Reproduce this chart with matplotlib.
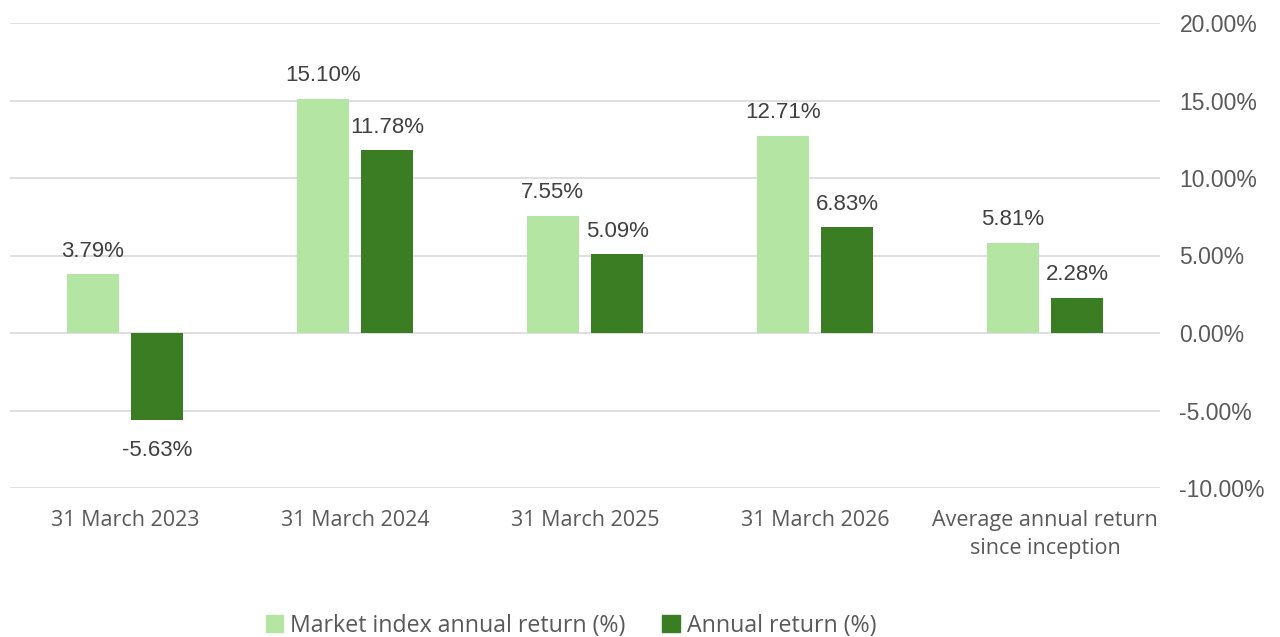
import numpy as np
import matplotlib.pyplot as plt
from matplotlib.patches import Patch
from matplotlib.ticker import FuncFormatter

# ==============================
# DATA
# ==============================

categories = ["31 March 2023", "31 March 2024", "31 March 2025", "31 March 2026",
              "Average annual return\nsince inception"]
market_index = [3.79, 15.10, 7.55, 12.71, 5.81]
annual_return = [-5.63, 11.78, 5.09, 6.83, 2.28]

LIGHT = "#B4E5A2"
DARK = "#3B7D23"
LABEL_FONT = "Liberation Sans"
CAT_FONT = "Open Sans"

# ==============================
# PLOT
# ==============================

fig = plt.figure(figsize=(12.8, 6.37), dpi=100)
ax = fig.add_axes([10 / 1280, 1 - 488 / 637, 1150 / 1280, 465 / 637])

x = np.arange(len(categories))
w = 0.226
off = 0.141

b1 = ax.bar(x - off, market_index, w, color=LIGHT, zorder=3)
b2 = ax.bar(x + off, annual_return, w, color=DARK, zorder=3)

for bars in (b1, b2):
    for rect in bars:
        v = rect.get_height()
        cx = rect.get_x() + rect.get_width() / 2
        if v >= 0:
            ax.annotate(f"{v:.2f}%", (cx, v), xytext=(0, 9), textcoords="offset points",
                        ha="center", va="bottom", fontsize=16, color="#404040",
                        family=LABEL_FONT)
        else:
            ax.annotate(f"{v:.2f}%", (cx, v), xytext=(0, -14), textcoords="offset points",
                        ha="center", va="top", fontsize=16, color="#404040",
                        family=LABEL_FONT)

ax.set_xlim(-0.5, len(categories) - 0.5)
ax.set_ylim(-10, 20)
ax.set_yticks(np.arange(-10, 21, 5))
ax.yaxis.set_major_formatter(FuncFormatter(lambda v, p: f"{v:.2f}%"))
ax.yaxis.tick_right()
ax.tick_params(axis="y", length=0, pad=14, labelsize=16.5, labelcolor="#595959")
for lab in ax.get_yticklabels():
    lab.set_family(LABEL_FONT)
    lab.set_horizontalalignment("left")

ax.set_xticks(x)
ax.set_xticklabels(categories, fontsize=15.5, color="#595959", family=CAT_FONT,
                   linespacing=1.45)
ax.tick_params(axis="x", length=0, pad=16)

ax.grid(axis="y", color="#D9D9D9", linewidth=1.2, zorder=0)
for s in ax.spines.values():
    s.set_visible(False)

handles = [Patch(color=LIGHT, label="Market index annual return (%)"),
           Patch(color=DARK, label="Annual return (%)")]
fig.legend(handles=handles, loc="center", bbox_to_anchor=(571 / 1280, 1 - 626 / 637),
           ncol=2, frameon=False, handlelength=0.75, handleheight=0.75,
           handletextpad=0.3, columnspacing=1.6,
           prop={"family": CAT_FONT, "size": 16.7}, labelcolor="#595959")

fig.savefig("out.png", dpi=100)
